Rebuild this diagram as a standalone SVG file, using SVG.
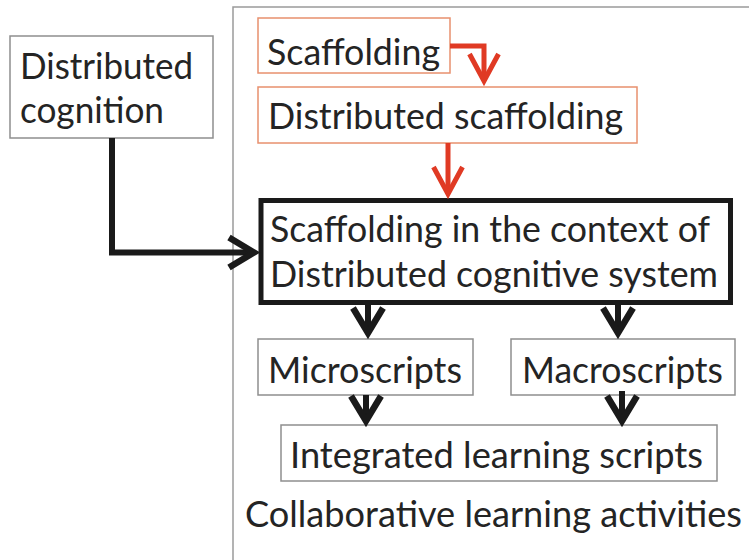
<svg xmlns="http://www.w3.org/2000/svg" width="749" height="560" viewBox="0 0 749 560">
  <style>
    .t { font-family: Lato, "Open Sans", "Liberation Sans", sans-serif; font-size: 36px; fill: #242424; }
    .box { fill: #ffffff; stroke: #8e8e8e; stroke-width: 1.5; }
    .rbox { fill: #ffffff; stroke: #e8906e; stroke-width: 1.5; }
    .main { fill: #ffffff; stroke: #1a1a1a; stroke-width: 5; }
    .frame { fill: #ffffff; stroke: #9a9a9a; stroke-width: 1.5; }
    .blk { fill: none; stroke: #1a1a1a; stroke-width: 6; }
    .red { fill: none; stroke: #e03a24; stroke-width: 5; }
  </style>
  <defs>
    <marker id="ab" markerUnits="userSpaceOnUse" viewBox="-34 -22 44 44" refX="0" refY="0" markerWidth="44" markerHeight="44" orient="auto" overflow="visible">
      <path d="M-25,-15 L0,0 L-25,15" fill="none" stroke="#1a1a1a" stroke-width="6.5" stroke-linejoin="miter"/>
    </marker>
    <marker id="ar" markerUnits="userSpaceOnUse" viewBox="-34 -22 44 44" refX="0" refY="0" markerWidth="44" markerHeight="44" orient="auto" overflow="visible">
      <path d="M-27,-14.5 L0,0 L-27,14.5" fill="none" stroke="#e03a24" stroke-width="5" stroke-linejoin="miter"/>
    </marker>
  </defs>
  <rect width="749" height="560" fill="#ffffff"/>

  <g id="collaborative-learning-activities">
    <rect class="frame" x="233" y="7" width="600" height="600"/>
    <text class="t" x="245" y="527" textLength="497" lengthAdjust="spacingAndGlyphs">Collaborative learning activities</text>
  </g>

  <g id="distributed-cognition">
    <rect class="box" x="10" y="36" width="203" height="102"/>
    <text class="t" x="20" y="79" textLength="173" lengthAdjust="spacingAndGlyphs">Distributed</text>
    <text class="t" x="20" y="123" textLength="144" lengthAdjust="spacingAndGlyphs">cognition</text>
  </g>

  <g id="scaffolding">
    <rect class="rbox" x="258" y="18" width="192" height="55"/>
    <text class="t" x="267" y="65" textLength="173" lengthAdjust="spacingAndGlyphs">Scaffolding</text>
  </g>

  <g id="distributed-scaffolding">
    <rect class="rbox" x="258" y="87" width="379" height="56"/>
    <text class="t" x="268" y="129" textLength="355" lengthAdjust="spacingAndGlyphs">Distributed scaffolding</text>
  </g>

  <g id="scaffolding-distributed-system">
    <rect class="main" x="261" y="200.5" width="469.5" height="102"/>
    <text class="t" x="270" y="242" textLength="440" lengthAdjust="spacingAndGlyphs">Scaffolding in the context of</text>
    <text class="t" x="270" y="287" textLength="448" lengthAdjust="spacingAndGlyphs">Distributed cognitive system</text>
  </g>

  <g id="microscripts">
    <rect class="box" x="258" y="339" width="215" height="56"/>
    <text class="t" x="268" y="383" textLength="194" lengthAdjust="spacingAndGlyphs">Microscripts</text>
  </g>

  <g id="macroscripts">
    <rect class="box" x="511" y="339" width="224" height="56"/>
    <text class="t" x="522" y="383" textLength="201" lengthAdjust="spacingAndGlyphs">Macroscripts</text>
  </g>

  <g id="integrated-learning-scripts">
    <rect class="box" x="281" y="425" width="436" height="56"/>
    <text class="t" x="290" y="468" textLength="413" lengthAdjust="spacingAndGlyphs">Integrated learning scripts</text>
  </g>

  <g id="connectors">
    <path class="blk" d="M112,138 V252.5 H254" marker-end="url(#ab)"/>
    <path class="red" d="M450,46 H484 V81" marker-end="url(#ar)"/>
    <path class="red" d="M448,143 V194" marker-end="url(#ar)"/>
    <path class="blk" d="M368,305 V333" marker-end="url(#ab)"/>
    <path class="blk" d="M618,305 V333" marker-end="url(#ab)"/>
    <path class="blk" d="M366,395 V421" marker-end="url(#ab)"/>
    <path class="blk" d="M622,391 V421" marker-end="url(#ab)"/>
  </g>
</svg>
